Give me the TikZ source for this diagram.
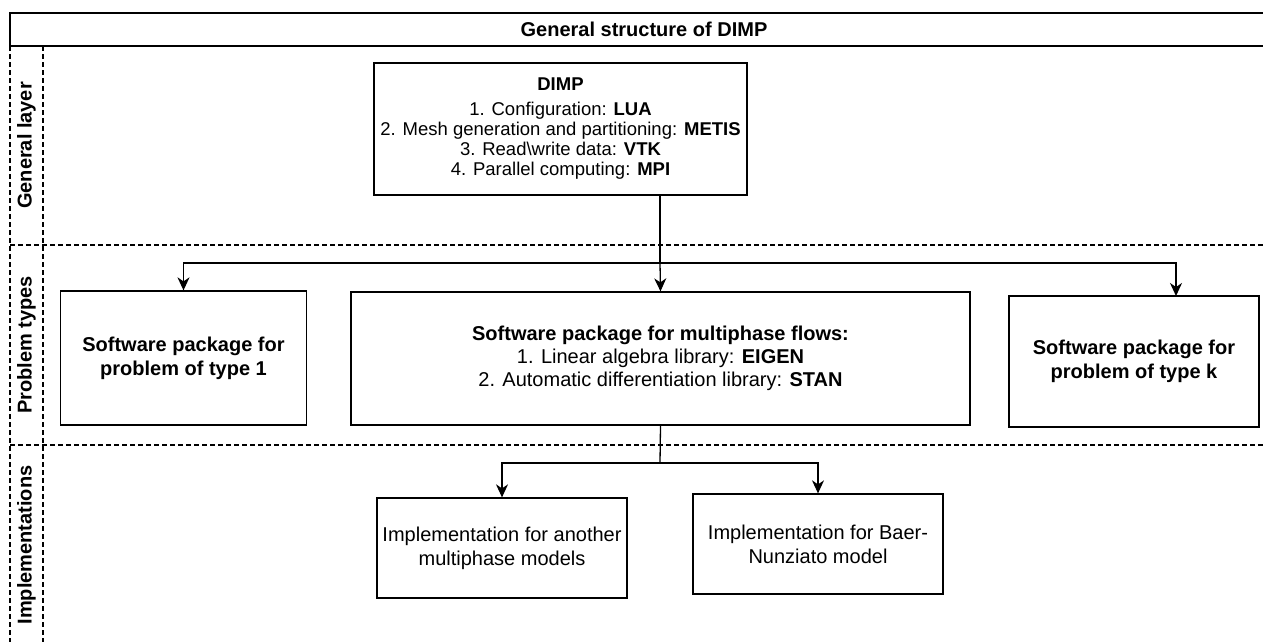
\documentclass[tikz,border=0pt]{standalone}
\usepackage{fontspec}
\setmainfont{Liberation Sans}
\usetikzlibrary{arrows.meta,calc}
\tikzset{
  box/.style={draw, line width=1.3pt, align=center, inner sep=2pt, fill=white},
  lane/.style={draw, line width=1.3pt, dash pattern=on 5pt off 3pt},
  conn/.style={line width=1.3pt},
  arr/.style={line width=1.3pt, -{Stealth[length=13pt,width=12pt,inset=4pt]}},
  fbig/.style={font=\fontsize{20}{24}\selectfont},
  lanelabel/.style={rotate=90, font=\bfseries\fontsize{20}{24}\selectfont},
}
\begin{document}
\begin{tikzpicture}[x=1pt,y=-1pt]
\useasboundingbox (0,0) rectangle (1263,641);
\clip (0,0) rectangle (1263,641);
% pool header
\draw[line width=1.3pt] (10,13) rectangle (1290,46);
\node[font=\bfseries\fontsize{20}{24}\selectfont] (title) at (644,29.5) {General structure of DIMP};
% lanes
\draw[lane] (10,46) -- (10,650);
\draw[lane] (43,46) -- (43,650);
\draw[lane] (10,245) -- (1290,245);
\draw[lane] (10,445) -- (1290,445);
\node[lanelabel] (l1) at (26.5,145.5) {General layer};
\node[lanelabel] (l2) at (26.5,345) {Problem types};
\node[lanelabel] (l3) at (26.5,545) {Implementations};
% nodes
\node[box, font=\fontsize{18.5}{20}\selectfont, minimum width=373pt, minimum height=132pt] (dimp) at (560.5,129)
  {\textbf{DIMP}\\[5pt]
   1. Configuration: \textbf{LUA}\\
   2. Mesh generation and partitioning: \textbf{METIS}\\
   3. Read\textbackslash write data: \textbf{VTK}\\
   4. Parallel computing: \textbf{MPI}};
\node[box, font=\bfseries\fontsize{20}{24}\selectfont, minimum width=246pt, minimum height=134pt] (p1) at (183.5,358)
  {Software package for\\problem of type 1};
\node[box, font=\fontsize{20}{23}\selectfont, minimum width=619pt, minimum height=133pt] (p2) at (660.5,358.5)
  {\textbf{Software package for multiphase flows:}\\
   1. Linear algebra library: \textbf{EIGEN}\\
   2. Automatic differentiation library: \textbf{STAN}};
\node[box, font=\bfseries\fontsize{20}{24}\selectfont, minimum width=250pt, minimum height=131pt] (pk) at (1134,361.5)
  {Software package for\\problem of type k};
\node[box, fbig, minimum width=250pt, minimum height=100pt] (i1) at (502,548)
  {Implementation for another\\multiphase models};
\node[box, fbig, minimum width=250pt, minimum height=100pt] (i2) at (818,544)
  {Implementation for Baer-\\Nunziato model};
% connectors
\coordinate (j1) at (660,263);
\coordinate (j2) at (660,463);
\coordinate (pkin) at (1176,296);
\draw[conn] (dimp.south -| j1) -- (j1);
\draw[arr] (j1) -| (p1.north);
\draw[arr] (j1) -- (p2.north);
\draw[arr] (j1) -| (pkin);
\draw[conn] (p2.south) -- (j2);
\draw[arr] (j2) -| (i1.north);
\draw[arr] (j2) -| (i2.north);
\end{tikzpicture}
\end{document}
